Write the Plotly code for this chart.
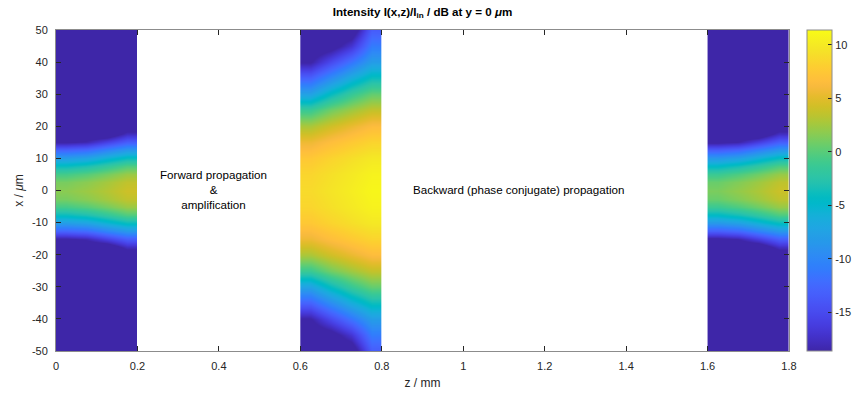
import plotly.graph_objects as go

# ---------------- data ----------------
# transverse sample positions |x| (µm) for the narrow beams
x_half_narrow = [0, 2.5, 5, 7.5, 10, 12.5, 15, 17.5, 20, 50]
# transverse sample positions |x| (µm) for the wide (amplified) beam
x_half_wide = [0, 5, 10, 15, 20, 25, 30, 35, 40, 45, 50]

# region 1: forward propagation input section, z = 0 ... 0.2 mm (column edges)
z_edges_in = [0.0, 0.05, 0.10, 0.15, 0.20]
dB_in = [  # one list per z column, values at x_half_narrow
    [1.7, 1.1, -0.8, -4.0, -8.0, -12.8, -18.9, -21.0, -21.0, -21.0],
    [2.3, 1.7, -0.1, -3.2, -7.3, -12.2, -18.2, -21.0, -21.0, -21.0],
    [3.1, 2.6, 1.0, -1.8, -5.6, -10.2, -15.8, -21.0, -21.0, -21.0],
    [4.1, 3.6, 2.2, -0.3, -4.0, -8.4, -13.4, -17.6, -21.0, -21.0],
]

# region 2: amplifier section, z = 0.6 ... 0.8 mm
z_edges_amp = [0.60, 0.65, 0.70, 0.75, 0.80]
dB_amp = [  # values at x_half_wide
    [8.9, 8.5, 7.5, 5.6, 2.8, -1.3, -7.5, -13.0, -18.8, -21.0, -21.0],
    [9.6, 9.3, 8.4, 6.7, 4.2, 0.9, -4.1, -9.5, -15.0, -20.0, -21.0],
    [10.3, 10.0, 9.2, 7.6, 5.4, 2.4, -1.5, -6.3, -11.5, -16.8, -21.0],
    [11.0, 10.7, 9.9, 8.4, 6.5, 3.7, 0.4, -3.8, -8.0, -11.0, -13.5],
]

# region 3: backward (phase conjugate) output section, z = 1.6 ... 1.8 mm
z_edges_out = [1.60, 1.65, 1.70, 1.75, 1.80]
dB_out = [  # values at x_half_narrow
    [1.2, 0.6, -1.3, -4.5, -8.5, -13.3, -19.2, -21.0, -21.0, -21.0],
    [2.0, 1.4, -0.4, -3.5, -7.6, -12.5, -18.5, -21.0, -21.0, -21.0],
    [2.9, 2.4, 0.8, -2.0, -5.8, -10.4, -16.0, -21.0, -21.0, -21.0],
    [4.0, 3.5, 2.1, -0.4, -4.1, -8.5, -13.3, -17.5, -21.0, -21.0],
]

z_ticks = [0, 0.2, 0.4, 0.6, 0.8, 1.0, 1.2, 1.4, 1.6, 1.8]
z_tick_text = ["0", "0.2", "0.4", "0.6", "0.8", "1", "1.2", "1.4", "1.6", "1.8"]
x_ticks = [-50, -40, -30, -20, -10, 0, 10, 20, 30, 40, 50]
x_tick_text = ["-50", "-40", "-30", "-20", "-10", "0", "10", "20", "30", "40", "50"]
cbar_ticks = [-15, -10, -5, 0, 5, 10]
cbar_tick_text = ["-15", "-10", "-5", "0", "5", "10"]
c_min, c_max = -18.6, 11.4

# MATLAB parula (R2017a+) colormap
parula = [
    [0.2422, 0.1504, 0.6603], [0.2504, 0.1650, 0.7076], [0.2578, 0.1818, 0.7511],
    [0.2647, 0.1978, 0.7952], [0.2706, 0.2147, 0.8364], [0.2751, 0.2342, 0.8710],
    [0.2783, 0.2559, 0.8991], [0.2803, 0.2782, 0.9221], [0.2813, 0.3006, 0.9414],
    [0.2810, 0.3228, 0.9579], [0.2795, 0.3447, 0.9717], [0.2760, 0.3667, 0.9829],
    [0.2699, 0.3892, 0.9906], [0.2602, 0.4123, 0.9952], [0.2440, 0.4358, 0.9988],
    [0.2206, 0.4603, 0.9973], [0.1963, 0.4847, 0.9892], [0.1834, 0.5074, 0.9798],
    [0.1786, 0.5289, 0.9682], [0.1764, 0.5499, 0.9520], [0.1687, 0.5703, 0.9359],
    [0.1540, 0.5902, 0.9218], [0.1460, 0.6091, 0.9079], [0.1380, 0.6276, 0.8973],
    [0.1248, 0.6459, 0.8883], [0.1113, 0.6635, 0.8763], [0.0952, 0.6798, 0.8598],
    [0.0689, 0.6948, 0.8394], [0.0297, 0.7082, 0.8163], [0.0036, 0.7203, 0.7917],
    [0.0067, 0.7312, 0.7660], [0.0433, 0.7411, 0.7394], [0.0964, 0.7500, 0.7120],
    [0.1408, 0.7584, 0.6842], [0.1717, 0.7670, 0.6554], [0.1938, 0.7758, 0.6251],
    [0.2161, 0.7843, 0.5923], [0.2470, 0.7918, 0.5567], [0.2906, 0.7973, 0.5188],
    [0.3406, 0.8008, 0.4789], [0.3909, 0.8029, 0.4354], [0.4456, 0.8024, 0.3909],
    [0.5044, 0.7993, 0.3480], [0.5616, 0.7942, 0.3045], [0.6174, 0.7876, 0.2612],
    [0.6720, 0.7793, 0.2227], [0.7242, 0.7698, 0.1910], [0.7738, 0.7598, 0.1646],
    [0.8203, 0.7498, 0.1535], [0.8634, 0.7406, 0.1596], [0.9035, 0.7330, 0.1774],
    [0.9393, 0.7288, 0.2100], [0.9728, 0.7298, 0.2394], [0.9956, 0.7434, 0.2371],
    [0.9970, 0.7659, 0.2199], [0.9952, 0.7893, 0.2028], [0.9892, 0.8136, 0.1885],
    [0.9786, 0.8386, 0.1766], [0.9676, 0.8639, 0.1643], [0.9610, 0.8890, 0.1537],
    [0.9597, 0.9135, 0.1423], [0.9628, 0.9373, 0.1265], [0.9691, 0.9606, 0.1064],
    [0.9769, 0.9839, 0.0805],
]
colorscale = [
    [i / (len(parula) - 1), "rgb(%d,%d,%d)" % tuple(round(255 * c) for c in rgb)]
    for i, rgb in enumerate(parula)
]


def full_grid(x_half, columns):
    """Mirror the symmetric half profiles into a (y, z) table."""
    ys = [-v for v in reversed(x_half[1:])] + list(x_half)
    idx = list(range(len(x_half) - 1, 0, -1)) + list(range(len(x_half)))
    table = [[col[k] for col in columns] for k in idx]
    return ys, table


fig = go.Figure()
for edges, x_half, cols in [
    (z_edges_in, x_half_narrow, dB_in),
    (z_edges_amp, x_half_wide, dB_amp),
    (z_edges_out, x_half_narrow, dB_out),
]:
    ys, table = full_grid(x_half, cols)
    fig.add_trace(go.Heatmap(x=edges, y=ys, z=table, coloraxis="coloraxis",
                             zsmooth="best", hoverinfo="skip"))

font_family = "Liberation Sans, Arial, sans-serif"
txt = "#262626"
axis_common = dict(
    showline=True, linecolor="#8c8c8c", linewidth=1, mirror="ticks",
    ticks="inside", ticklen=5, tickwidth=1, tickcolor="#262626",
    showgrid=False, zeroline=False, automargin=False,
    tickfont=dict(family=font_family, size=11, color=txt),
)

W, H = 863, 394
fig.update_layout(
    width=W, height=H,
    margin=dict(l=56, r=74, t=30, b=43, autoexpand=False),
    paper_bgcolor="white", plot_bgcolor="white",
    font=dict(family=font_family, color=txt),
    title=dict(
        text="<b>Intensity I(x,z)/I<sub>in</sub> / dB at y = 0 <i>μ</i>m</b>",
        x=0.5, xref="paper", xanchor="center",
        y=1 - 12 / H, yref="container", yanchor="middle",
        font=dict(family=font_family, size=11.6, color="black"),
    ),
    xaxis=dict(range=[0, 1.8], tickvals=z_ticks, ticktext=z_tick_text,
               ticklabelstandoff=5,
               title=dict(text="z / mm", font=dict(size=12, color=txt), standoff=7),
               **axis_common),
    yaxis=dict(range=[-50, 50], tickvals=x_ticks, ticktext=x_tick_text,
               ticklabelstandoff=5,
               title=dict(text="x / <i>μ</i>m", font=dict(size=12, color=txt), standoff=5),
               **axis_common),
    coloraxis=dict(
        colorscale=colorscale, cmin=c_min, cmax=c_max,
        colorbar=dict(
            x=1.0245, xanchor="left", xref="paper",
            y=0.5, yanchor="middle", len=1, lenmode="fraction",
            thickness=25, xpad=0, ypad=0,
            outlinewidth=1, outlinecolor="#8c8c8c",
            ticks="inside", ticklen=4, tickcolor="#262626",
            tickvals=cbar_ticks, ticktext=cbar_tick_text,
            tickfont=dict(family=font_family, size=11, color=txt),
        ),
    ),
    annotations=[
        dict(x=0.387, y=0.2, xref="x", yref="y",
             text="Forward propagation<br>&<br>amplification",
             showarrow=False, align="center",
             font=dict(family=font_family, size=11.6, color="black")),
        dict(x=1.136, y=0.2, xref="x", yref="y",
             text="Backward (phase conjugate) propagation",
             showarrow=False, align="center",
             font=dict(family=font_family, size=11.6, color="black")),
    ],
)

# remove the default 8 px page margin so the figure fills the window exactly
fig.write_html("out.html",
               config={"displayModeBar": False},
               post_script="document.body.style.margin='0';document.body.style.overflow='hidden';")
